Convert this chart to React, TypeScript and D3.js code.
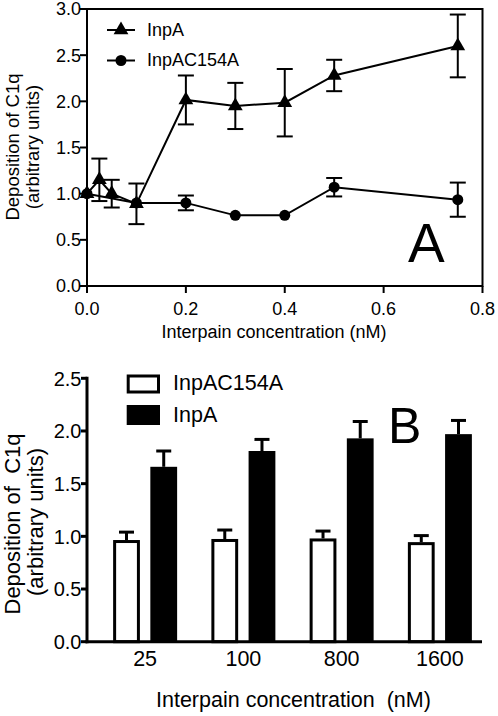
import React from "react";
import * as d3 from "d3";

// ---------- Panel A data ----------
const concA = [0, 0.025, 0.05, 0.1, 0.2, 0.3, 0.4, 0.5, 0.75];
const inpAValues = [1.0, 1.15, 1.0, 0.89, 2.015, 1.95, 1.985, 2.28, 2.6];
const inpAErrors = [0, 0.23, 0.15, 0.22, 0.265, 0.25, 0.365, 0.17, 0.34];
const concMut = [0, 0.1, 0.2, 0.3, 0.4, 0.5, 0.75];
const mutValues = [1.0, 0.9, 0.9, 0.765, 0.765, 1.07, 0.935];
const mutErrors = [0, 0, 0.08, 0, 0, 0.1, 0.185];
const xTicksA = [0, 0.2, 0.4, 0.6, 0.8];
const yTicksA = [0, 0.5, 1.0, 1.5, 2.0, 2.5, 3.0];

// ---------- Panel B data ----------
const groupsB = ["25", "100", "800", "1600"];
const seriesB = ["InpAC154A", "InpA"];
const mutBValues = [0.965, 0.975, 0.98, 0.945];
const mutBErrors = [0.075, 0.085, 0.07, 0.062];
const inpABValues = [1.66, 1.81, 1.93, 1.97];
const inpABErrors = [0.15, 0.11, 0.16, 0.13];
const yTicksB = [0, 0.5, 1.0, 1.5, 2.0, 2.5];

const FONT = "'Liberation Sans', Arial, Helvetica, sans-serif";
const fmt = d3.format(".1f");

export default function App() {
  // scales A
  const xA = d3.scaleLinear().domain([0, 0.8]).range([87, 482.5]);
  const yA = d3.scaleLinear().domain([0, 3]).range([286, 9]);
  const lineA = d3
    .line<[number, number]>()
    .x((d) => xA(d[0]))
    .y((d) => yA(d[1]));
  const inpAPts: [number, number][] = concA.map((c, i) => [c, inpAValues[i]]);
  const mutPts: [number, number][] = concMut.map((c, i) => [c, mutValues[i]]);
  const tri = d3.symbol().type(d3.symbolTriangle).size(95)() as string;

  // scales B
  const yB = d3.scaleLinear().domain([0, 2.5]).range([641.7, 378.3]);
  const xB = d3.scaleBand<string>().domain(groupsB).range([96, 489]);
  const sub = d3
    .scaleBand<string>()
    .domain(seriesB)
    .range([-32, 32])
    .paddingInner(0.28);

  const capA = 8;
  const capB = 7.5;

  const errBarA = (x: number, v: number, e: number, key: string) =>
    e > 0 ? (
      <g key={key} stroke="#000" strokeWidth={2}>
        <line x1={xA(x)} x2={xA(x)} y1={yA(v - e)} y2={yA(v + e)} />
        <line x1={xA(x) - capA} x2={xA(x) + capA} y1={yA(v + e)} y2={yA(v + e)} />
        <line x1={xA(x) - capA} x2={xA(x) + capA} y1={yA(v - e)} y2={yA(v - e)} />
      </g>
    ) : null;

  return (
    <svg
      width={498}
      height={716}
      style={{ position: "absolute", left: 0, top: 0, background: "#fff" }}
      fontFamily={FONT}
    >
      {/* ================= Panel A ================= */}
      <rect x={87} y={9} width={395.5} height={277} fill="none" stroke="#000" strokeWidth={2} />
      {yTicksA.map((t) => (
        <g key={"ya" + t}>
          <line x1={80} x2={87} y1={yA(t)} y2={yA(t)} stroke="#000" strokeWidth={2} />
          <text x={81} y={yA(t)} dy="0.36em" textAnchor="end" fontSize={18}>
            {fmt(t)}
          </text>
        </g>
      ))}
      {xTicksA.map((t) => (
        <g key={"xa" + t}>
          <line x1={xA(t)} x2={xA(t)} y1={286} y2={293} stroke="#000" strokeWidth={2} />
          <text x={xA(t)} y={315} textAnchor="middle" fontSize={18}>
            {fmt(t)}
          </text>
        </g>
      ))}
      <text x={274} y={338} textAnchor="middle" fontSize={18}>
        Interpain concentration (nM)
      </text>
      <text transform="translate(19,147) rotate(-90)" textAnchor="middle" fontSize={18.5}>
        Deposition of C1q
      </text>
      <text transform="translate(38.5,147) rotate(-90)" textAnchor="middle" fontSize={18.5}>
        (arbitrary units)
      </text>

      {/* error bars */}
      {concA.map((c, i) => errBarA(c, inpAValues[i], inpAErrors[i], "ea" + i))}
      {concMut.map((c, i) => errBarA(c, mutValues[i], mutErrors[i], "em" + i))}
      {/* lines */}
      <path d={lineA(inpAPts) || ""} fill="none" stroke="#000" strokeWidth={2} />
      <path d={lineA(mutPts) || ""} fill="none" stroke="#000" strokeWidth={2} />
      {/* markers */}
      {inpAPts.map((p, i) => (
        <path key={"ta" + i} d={tri} transform={`translate(${xA(p[0])},${yA(p[1])})`} fill="#000" />
      ))}
      {mutPts.map((p, i) => (
        <circle key={"cm" + i} cx={xA(p[0])} cy={yA(p[1])} r={5.5} fill="#000" />
      ))}

      {/* legend A */}
      <line x1={107} x2={135} y1={30} y2={30} stroke="#000" strokeWidth={2} />
      <path d={tri} transform="translate(121,30)" fill="#000" />
      <text x={147} y={35.5} fontSize={18}>
        InpA
      </text>
      <line x1={107} x2={135} y1={60.5} y2={60.5} stroke="#000" strokeWidth={2} />
      <circle cx={121} cy={60.5} r={5.5} fill="#000" />
      <text x={147} y={66} fontSize={18}>
        InpAC154A
      </text>

      <text x={408} y={262} fontSize={55}>
        A
      </text>

      {/* ================= Panel B ================= */}
      {/* bars */}
      {groupsB.map((g, i) => {
        const c = (xB(g) as number) + xB.bandwidth() / 2;
        const wx = c + (sub("InpAC154A") as number);
        const bx = c + (sub("InpA") as number);
        const bw = sub.bandwidth();
        const wTop = yB(mutBValues[i]);
        const bTop = yB(inpABValues[i]);
        const wErr = yB(mutBValues[i] + mutBErrors[i]);
        const bErr = yB(inpABValues[i] + inpABErrors[i]);
        return (
          <g key={"gb" + g}>
            <rect
              x={wx + 1.5}
              y={wTop + 1.5}
              width={bw - 3}
              height={yB(0) - wTop - 1.5}
              fill="#fff"
              stroke="#000"
              strokeWidth={3}
            />
            <rect x={bx} y={bTop} width={bw} height={yB(0) - bTop} fill="#000" />
            <g stroke="#000" strokeWidth={3}>
              <line x1={wx + bw / 2} x2={wx + bw / 2} y1={wTop} y2={wErr} />
              <line x1={wx + bw / 2 - capB} x2={wx + bw / 2 + capB} y1={wErr} y2={wErr} />
              <line x1={bx + bw / 2} x2={bx + bw / 2} y1={bTop} y2={bErr} />
              <line x1={bx + bw / 2 - capB} x2={bx + bw / 2 + capB} y1={bErr} y2={bErr} />
            </g>
            <text x={c} y={666} textAnchor="middle" fontSize={21.5}>
              {g}
            </text>
          </g>
        );
      })}
      {/* axes B */}
      <line x1={87} x2={87} y1={yB(2.5) - 1.5} y2={yB(0) + 1.5} stroke="#000" strokeWidth={3} />
      <line x1={85.5} x2={482} y1={yB(0)} y2={yB(0)} stroke="#000" strokeWidth={3} />
      {yTicksB.map((t) => (
        <g key={"yb" + t}>
          <line x1={81} x2={87} y1={yB(t)} y2={yB(t)} stroke="#000" strokeWidth={3} />
          <text x={81.5} y={yB(t)} dy="0.36em" textAnchor="end" fontSize={20}>
            {fmt(t)}
          </text>
        </g>
      ))}
      <text x={156} y={706.5} fontSize={21.5} style={{ whiteSpace: "pre" }}>
        {"Interpain concentration  (nM)"}
      </text>
      <text
        transform="translate(20,524) rotate(-90)"
        textAnchor="middle"
        fontSize={22}
        style={{ whiteSpace: "pre" }}
      >
        {"Deposition of  C1q"}
      </text>
      <text transform="translate(43,522) rotate(-90)" textAnchor="middle" fontSize={22}>
        (arbitrary units)
      </text>

      {/* legend B */}
      <rect x={128.2} y={376} width={30.3} height={16} fill="#fff" stroke="#000" strokeWidth={3} />
      <text x={173} y={390} fontSize={21.5}>
        InpAC154A
      </text>
      <rect x={126.7} y={405} width={33.3} height={20} fill="#000" />
      <text x={173} y={422.3} fontSize={21.5}>
        InpA
      </text>

      <text x={388} y={443} fontSize={50}>
        B
      </text>
    </svg>
  );
}
